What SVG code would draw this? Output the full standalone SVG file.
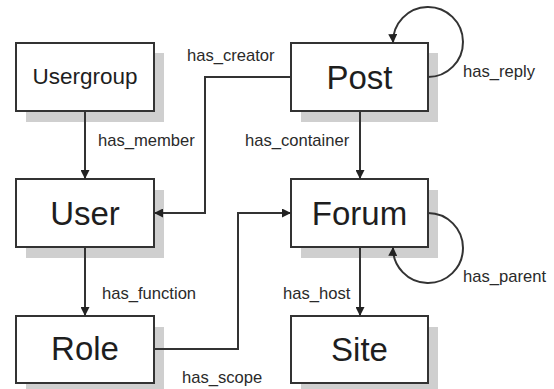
<svg xmlns="http://www.w3.org/2000/svg" width="554" height="389" viewBox="0 0 554 389">
<defs>
<style>
.sh{fill:#cfcfcf;stroke:none}
.bx{fill:#fff;stroke:#333;stroke-width:2}
.nl{font-family:"Liberation Sans",Arial,sans-serif;font-size:33px;fill:#1e1e1e;text-anchor:middle}
.el{font-family:"Liberation Sans",Arial,sans-serif;font-size:16.6px;fill:#2a2a2a}
.ln{fill:none;stroke:#333;stroke-width:2}
</style>
<marker id="ah" viewBox="0 0 10 10" refX="10" refY="5" markerWidth="10" markerHeight="9" markerUnits="userSpaceOnUse" orient="auto">
<path d="M0,0 L10,5 L0,10 z" fill="#222"/>
</marker>
</defs>
<rect width="554" height="389" fill="#fff"/>
<g id="usergroup">
<rect class="sh" x="26" y="53" width="138" height="69"/>
<rect class="bx" x="16" y="43" width="138" height="68"/>
<text class="nl" x="85" y="84" style="font-size:22.5px">Usergroup</text>
</g>
<g id="user">
<rect class="sh" x="26" y="190" width="138" height="68"/>
<rect class="bx" x="16" y="179" width="138" height="68"/>
<text class="nl" x="85" y="225">User</text>
</g>
<g id="role">
<rect class="sh" x="26" y="327" width="138" height="68"/>
<rect class="bx" x="16" y="316" width="138" height="67"/>
<text class="nl" x="85" y="360">Role</text>
</g>
<g id="post">
<rect class="sh" x="301" y="53" width="137" height="69"/>
<rect class="bx" x="291" y="43" width="137" height="68"/>
<text class="nl" x="359.5" y="88.5">Post</text>
</g>
<g id="forum">
<rect class="sh" x="301" y="190" width="137" height="68"/>
<rect class="bx" x="291" y="179" width="137" height="68"/>
<text class="nl" x="359.5" y="225">Forum</text>
</g>
<g id="site">
<rect class="sh" x="301" y="327" width="137" height="68"/>
<rect class="bx" x="291" y="316" width="137" height="67"/>
<text class="nl" x="359.5" y="360.5">Site</text>
</g>
<g id="connectors">
<path class="ln" d="M85,111 V179" marker-end="url(#ah)"/>
<path class="ln" d="M85,247 V316" marker-end="url(#ah)"/>
<path class="ln" d="M360,111 V179" marker-end="url(#ah)"/>
<path class="ln" d="M360,247 V316" marker-end="url(#ah)"/>
<path class="ln" d="M291,77 H205 V213 H154" marker-end="url(#ah)"/>
<path class="ln" d="M154,349 H238 V213 H291" marker-end="url(#ah)"/>
<path class="ln" d="M428,77 A35,35 0 1 0 393,43" marker-end="url(#ah)"/>
<path class="ln" d="M428,213 A35,35 0 1 1 393,247" marker-end="url(#ah)"/>
<text class="el" x="98" y="146">has_member</text>
<text class="el" x="245" y="146">has_container</text>
<text class="el" x="187" y="61">has_creator</text>
<text class="el" x="463" y="77">has_reply</text>
<text class="el" x="102" y="299">has_function</text>
<text class="el" x="283" y="299">has_host</text>
<text class="el" x="463" y="282">has_parent</text>
<text class="el" x="182" y="383">has_scope</text>
</g>
</svg>
